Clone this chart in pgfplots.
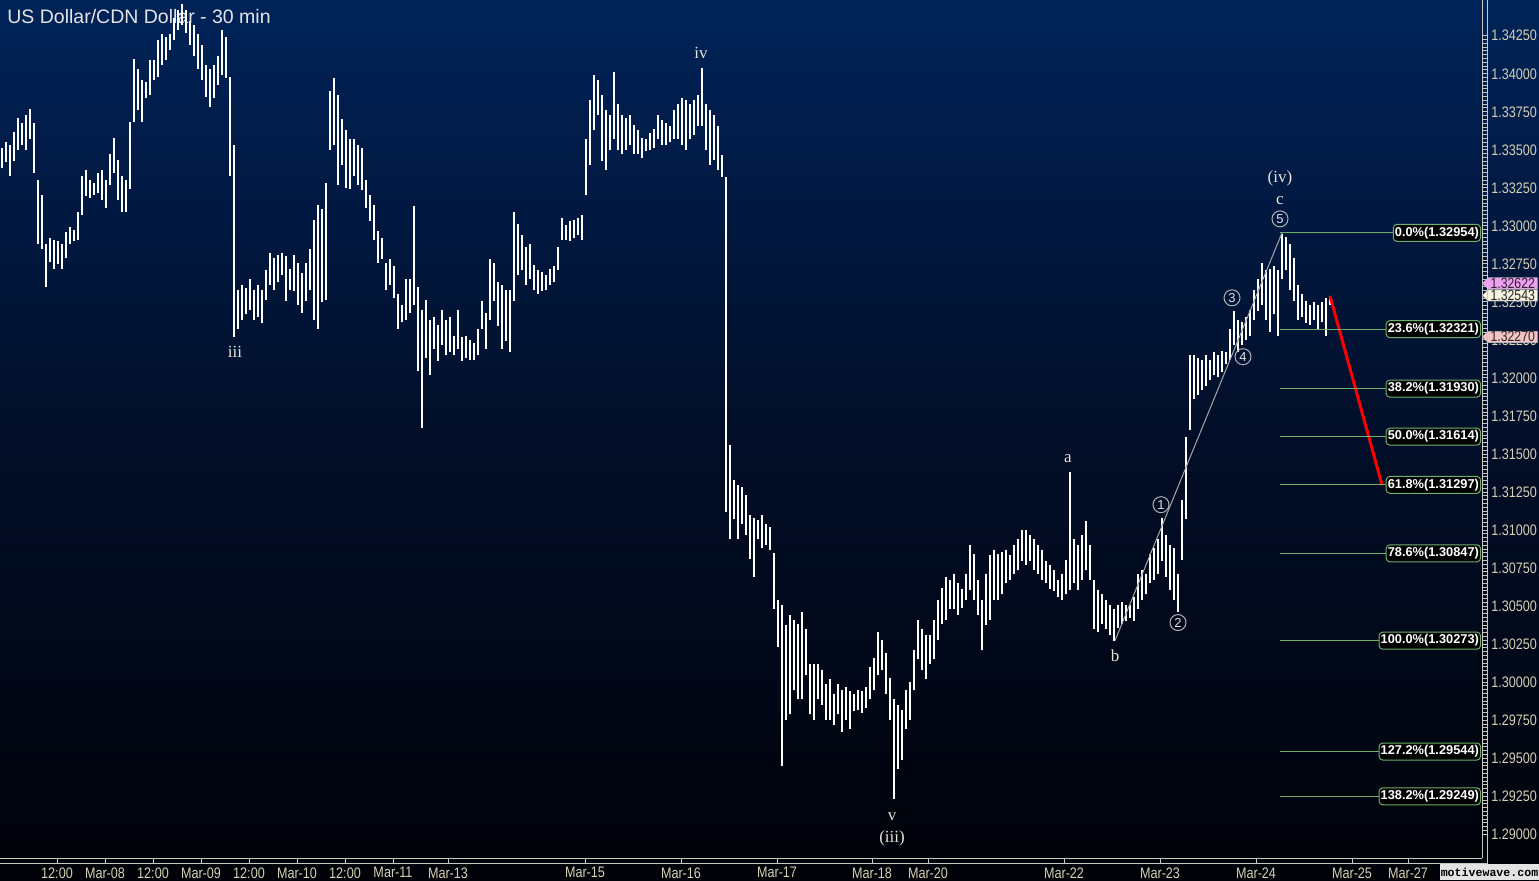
\documentclass[border=0pt]{standalone}
\usepackage{fontspec}
\usepackage{pgfplots}
\pgfplotsset{compat=1.18}
\usepackage{pgfplotstable}
\usetikzlibrary{shapes.symbols}
\setmainfont{Liberation Sans}
\newfontfamily\narrowfont{Liberation Sans}[FakeStretch=0.83]
\newfontfamily\wavefont{Liberation Serif}
\newfontfamily\wmfont{Liberation Mono}

\definecolor{bgtop}{RGB}{0,35,88}
\definecolor{bgmid}{RGB}{2,14,40}
\definecolor{bgbot}{RGB}{0,2,8}
\definecolor{axisc}{RGB}{200,200,190}
\definecolor{labc}{RGB}{214,208,180}
\definecolor{fibgreen}{RGB}{108,176,108}
\definecolor{wavec}{RGB}{232,228,214}
\definecolor{titlec}{RGB}{228,228,228}
\definecolor{mkpink}{RGB}{240,160,240}
\definecolor{mkcream}{RGB}{248,244,224}
\definecolor{mksalmon}{RGB}{244,196,196}

% 30-min bars: x = bar position, lo/hi = low/high price
\pgfplotstableread{
x lo hi
2 1.3338 1.3351
6 1.3342 1.3355
10 1.3333 1.3353
14 1.3343 1.3362
18 1.3350 1.3371
22 1.3353 1.3368
26 1.3350 1.3373
30 1.3357 1.3377
34 1.3335 1.3368
38 1.3288 1.3330
42 1.3285 1.3320
46 1.3260 1.3288
50 1.3276 1.3292
54 1.3272 1.3291
58 1.3275 1.3290
62 1.3272 1.3288
66 1.3279 1.3296
70 1.3288 1.3299
74 1.3290 1.3297
78 1.3291 1.3309
82 1.3307 1.3333
86 1.3320 1.3337
90 1.3318 1.3330
94 1.3320 1.3328
98 1.3322 1.3335
102 1.3317 1.3337
106 1.3312 1.3330
110 1.3327 1.3347
114 1.3335 1.3358
118 1.3317 1.3343
122 1.3309 1.3333
126 1.3309 1.3330
130 1.3324 1.3368
134 1.3368 1.3410
138 1.3376 1.3403
142 1.3368 1.3396
146 1.3384 1.3395
150 1.3386 1.3409
154 1.3396 1.3409
158 1.3398 1.3422
162 1.3406 1.3426
166 1.3409 1.3424
170 1.3416 1.3426
174 1.3422 1.3437
178 1.3429 1.3442
182 1.3432 1.3446
186 1.3427 1.3442
190 1.3419 1.3435
194 1.3412 1.3432
198 1.3403 1.3426
202 1.3396 1.3419
206 1.3385 1.3406
210 1.3378 1.3403
214 1.3384 1.3406
218 1.3393 1.3412
222 1.3399 1.3429
226 1.3397 1.3424
230 1.3333 1.3398
234 1.3227 1.3353
238 1.3232 1.3258
242 1.3238 1.3261
246 1.3242 1.3259
250 1.3245 1.3265
254 1.3238 1.3258
258 1.3240 1.3261
262 1.3236 1.3258
266 1.3251 1.3271
270 1.3261 1.3282
274 1.3258 1.3279
278 1.3263 1.3281
282 1.3268 1.3282
286 1.3251 1.3280
290 1.3258 1.3272
294 1.3257 1.3281
298 1.3248 1.3276
302 1.3243 1.3269
306 1.3251 1.3276
310 1.3258 1.3285
314 1.3238 1.3304
318 1.3232 1.3314
322 1.3250 1.3311
326 1.3251 1.3328
330 1.3350 1.3389
334 1.3353 1.3397
338 1.3327 1.3386
342 1.3340 1.3370
346 1.3325 1.3363
350 1.3324 1.3357
354 1.3333 1.3357
358 1.3327 1.3353
362 1.3324 1.3351
366 1.3312 1.3330
370 1.3303 1.3320
374 1.3291 1.3314
378 1.3276 1.3297
382 1.3278 1.3292
386 1.3258 1.3276
390 1.3261 1.3278
394 1.3253 1.3274
398 1.3232 1.3255
402 1.3237 1.3248
406 1.3238 1.3265
410 1.3243 1.3265
414 1.3248 1.3313
418 1.3205 1.3260
422 1.3167 1.3245
426 1.3213 1.3251
430 1.3202 1.3238
434 1.3219 1.3240
438 1.3211 1.3235
442 1.3222 1.3245
446 1.3215 1.3238
450 1.3217 1.3240
454 1.3215 1.3228
458 1.3219 1.3245
462 1.3211 1.3227
466 1.3213 1.3228
470 1.3212 1.3225
474 1.3212 1.3223
478 1.3215 1.3232
482 1.3232 1.3251
486 1.3219 1.3243
490 1.3238 1.3278
494 1.3251 1.3276
498 1.3234 1.3263
502 1.3219 1.3261
506 1.3224 1.3258
510 1.3217 1.3258
514 1.3251 1.3309
518 1.3268 1.3301
522 1.3271 1.3294
526 1.3261 1.3286
530 1.3265 1.3288
534 1.3258 1.3274
538 1.3255 1.3271
542 1.3257 1.3270
546 1.3258 1.3268
550 1.3261 1.3272
554 1.3263 1.3274
558 1.3271 1.3286
562 1.3291 1.3305
566 1.3291 1.3301
570 1.3290 1.3303
574 1.3292 1.3304
578 1.3294 1.3305
582 1.3291 1.3307
586 1.3320 1.3357
590 1.3340 1.3383
594 1.3363 1.3399
598 1.3373 1.3396
602 1.3343 1.3386
606 1.3337 1.3376
610 1.3350 1.3373
614 1.3357 1.3401
618 1.3350 1.3380
622 1.3347 1.3373
626 1.3350 1.3371
630 1.3353 1.3373
634 1.3347 1.3366
638 1.3347 1.3363
642 1.3345 1.3358
646 1.3349 1.3357
650 1.3350 1.3361
654 1.3351 1.3364
658 1.3357 1.3373
662 1.3353 1.3370
666 1.3353 1.3368
670 1.3355 1.3366
674 1.3357 1.3376
678 1.3357 1.3380
682 1.3353 1.3384
686 1.3350 1.3383
690 1.3357 1.3380
694 1.3360 1.3383
698 1.3366 1.3386
702 1.3366 1.3404
706 1.3350 1.3380
710 1.3340 1.3376
714 1.3343 1.3373
718 1.3337 1.3366
722 1.3332 1.3347
726 1.3112 1.3332
730 1.3094 1.3156
734 1.3107 1.3133
738 1.3094 1.3130
742 1.3104 1.3128
746 1.3097 1.3123
750 1.3081 1.3110
754 1.3069 1.3108
758 1.3094 1.3107
762 1.3088 1.3110
766 1.3090 1.3104
770 1.3087 1.3102
774 1.3048 1.3085
778 1.3023 1.3054
782 1.2945 1.3051
786 1.2975 1.3038
790 1.2979 1.3044
794 1.2995 1.3041
798 1.2989 1.3038
802 1.2989 1.3046
806 1.3005 1.3035
810 1.2979 1.3012
814 1.2975 1.3012
818 1.2989 1.3012
822 1.2985 1.3008
826 1.2975 1.2999
830 1.2975 1.3002
834 1.2972 1.2992
838 1.2979 1.2999
842 1.2967 1.2995
846 1.2975 1.2997
850 1.2969 1.2994
854 1.2981 1.2992
858 1.2982 1.2995
862 1.2980 1.2994
866 1.2983 1.2997
870 1.2989 1.3010
874 1.2995 1.3016
878 1.3005 1.3033
882 1.3008 1.3028
886 1.2992 1.3019
890 1.2975 1.3003
894 1.2923 1.2989
898 1.2943 1.2985
902 1.2949 1.2982
906 1.2969 1.2995
910 1.2975 1.3000
914 1.2995 1.3021
918 1.3015 1.3041
922 1.3008 1.3035
926 1.3002 1.3031
930 1.3012 1.3031
934 1.3015 1.3041
938 1.3028 1.3054
942 1.3038 1.3062
946 1.3041 1.3069
950 1.3048 1.3067
954 1.3048 1.3071
958 1.3044 1.3065
962 1.3049 1.3061
966 1.3054 1.3071
970 1.3061 1.3090
974 1.3054 1.3084
978 1.3044 1.3067
982 1.3021 1.3054
986 1.3038 1.3071
990 1.3041 1.3084
994 1.3054 1.3087
998 1.3054 1.3084
1002 1.3058 1.3086
1006 1.3065 1.3087
1010 1.3067 1.3084
1014 1.3071 1.3090
1018 1.3074 1.3094
1022 1.3080 1.3100
1026 1.3077 1.3100
1030 1.3080 1.3097
1034 1.3074 1.3094
1038 1.3071 1.3090
1042 1.3067 1.3087
1046 1.3065 1.3080
1050 1.3061 1.3077
1054 1.3060 1.3074
1058 1.3056 1.3067
1062 1.3054 1.3071
1066 1.3058 1.3080
1070 1.3061 1.3138
1074 1.3065 1.3094
1078 1.3061 1.3090
1082 1.3067 1.3097
1086 1.3074 1.3106
1090 1.3067 1.3090
1094 1.3035 1.3067
1098 1.3033 1.3061
1102 1.3038 1.3058
1106 1.3035 1.3054
1110 1.3031 1.3051
1114 1.3027 1.3048
1118 1.3036 1.3051
1122 1.3038 1.3053
1126 1.3040 1.3051
1130 1.3042 1.3051
1134 1.3040 1.3056
1138 1.3048 1.3071
1142 1.3054 1.3074
1146 1.3058 1.3071
1150 1.3065 1.3084
1154 1.3067 1.3088
1158 1.3071 1.3094
1162 1.3080 1.3108
1166 1.3069 1.3097
1170 1.3061 1.3090
1174 1.3054 1.3088
1178 1.3046 1.3071
1182 1.3080 1.3120
1186 1.3107 1.3161
1190 1.3166 1.3215
1194 1.3186 1.3215
1198 1.3189 1.3213
1202 1.3192 1.3212
1206 1.3195 1.3215
1210 1.3199 1.3212
1214 1.3202 1.3217
1218 1.3201 1.3215
1222 1.3204 1.3218
1226 1.3209 1.3217
1230 1.3212 1.3232
1234 1.3222 1.3244
1238 1.3217 1.3238
1242 1.3222 1.3237
1246 1.3225 1.3240
1250 1.3228 1.3245
1254 1.3238 1.3258
1258 1.3244 1.3265
1262 1.3248 1.3276
1266 1.3238 1.3271
1270 1.3230 1.3272
1274 1.3242 1.3274
1278 1.3228 1.3271
1282 1.3265 1.3295
1286 1.3271 1.3293
1290 1.3258 1.3288
1294 1.3251 1.3279
1298 1.3238 1.3261
1302 1.3240 1.3255
1306 1.3236 1.3251
1310 1.3235 1.3248
1314 1.3238 1.3250
1318 1.3232 1.3248
1322 1.3237 1.3250
1326 1.3228 1.3253
1330 1.3248 1.3254
}\bars

\begin{document}
\begin{tikzpicture}[
  wave/.style={text=wavec, font=\wavefont\fontsize{8.5}{8.5}\selectfont, inner sep=0pt},
  circ/.style={circle, draw=gray!60!white, line width=0.5pt, inner sep=0pt, minimum size=8pt,
    text=gray!25!white, font=\fontsize{6.5}{6.5}\selectfont},
  fib/.style={anchor=east, draw=fibgreen, fill=black, rounded corners=1.8pt, line width=0.5pt,
    text=white, font=\bfseries\fontsize{6.4}{6.4}\selectfont, inner xsep=0.8pt, inner ysep=0pt, minimum height=8.5pt},
  pmark/.style={signal, signal to=west, anchor=west, inner xsep=0.8pt, inner ysep=0pt, minimum height=5.6pt,
    minimum width=27.5pt, font=\narrowfont\fontsize{7.4}{7.4}\selectfont, draw=gray!60!white, line width=0.3pt}
]
\shade[top color=bgtop, bottom color=bgbot, middle color=bgmid] (0,0) rectangle (769.5pt,440pt);
\node[anchor=west, text=titlec, font=\fontsize{9.75}{10}\selectfont, inner sep=0pt] at (3.5pt,431.5pt) {US Dollar/CDN Dollar - 30 min};

\begin{axis}[
  at={(0,11pt)}, anchor=south west,
  scale only axis, width=741pt, height=429pt,
  xmin=0, xmax=1482, ymin=1.28844, ymax=1.34485,
  clip=false,
  axis x line*=bottom, axis y line*=right,
  axis line style={draw=axisc, line width=0.5pt},
  tick style={draw=axisc, line width=0.5pt},
  tick align=outside,
  major tick length=2.5pt, minor tick length=2.5pt,
  xtick={57,105,153,201,249,297,345,393,448,585,681,777,872,928,1064,1160,1256,1352,1408},
  xticklabels={12:00,Mar-08,12:00,Mar-09,12:00,Mar-10,12:00,Mar-11,Mar-13,Mar-15,Mar-16,Mar-17,Mar-18,Mar-20,Mar-22,Mar-23,Mar-24,Mar-25,Mar-27},
  ytick={1.29,1.2925,1.295,1.2975,1.3,1.3025,1.305,1.3075,1.31,1.3125,1.315,1.3175,1.32,1.3225,1.325,1.3275,1.33,1.3325,1.335,1.3375,1.34,1.3425},
  yticklabels={1.29000,1.29250,1.29500,1.29750,1.30000,1.30250,1.30500,1.30750,1.31000,1.31250,1.31500,1.31750,1.32000,1.32250,1.32500,1.32750,1.33000,1.33250,1.33500,1.33750,1.34000,1.34250},
  minor y tick num=9,
  ticklabel style={font=\narrowfont\fontsize{7.6}{7.6}\selectfont, text=labc},
  xticklabel style={inner sep=0pt, yshift=-2pt},
  yticklabel style={inner sep=0pt, xshift=2pt},
]
% price bars
\addplot[draw=none, mark=none,
  error bars/.cd, y dir=both, y explicit, error mark=none,
  error bar style={draw=white, line width=0.6pt}]
  table[x=x, y expr={(\thisrow{lo}+\thisrow{hi})/2}, y error expr={(\thisrow{hi}-\thisrow{lo})/2}] {\bars};

% wave line b -> (iv)
\addplot[gray!70!white, line width=0.5pt] coordinates {(1115,1.30273) (1282,1.32954)};
% projection
\addplot[red, line width=1.5pt] coordinates {(1330,1.3254) (1382,1.31297)};

% fibonacci levels
\addplot[fibgreen, line width=0.5pt] coordinates {(1280,1.32954) (1440,1.32954)};
\addplot[fibgreen, line width=0.5pt] coordinates {(1280,1.32321) (1440,1.32321)};
\addplot[fibgreen, line width=0.5pt] coordinates {(1280,1.31930) (1440,1.31930)};
\addplot[fibgreen, line width=0.5pt] coordinates {(1280,1.31614) (1440,1.31614)};
\addplot[fibgreen, line width=0.5pt] coordinates {(1280,1.31297) (1440,1.31297)};
\addplot[fibgreen, line width=0.5pt] coordinates {(1280,1.30847) (1440,1.30847)};
\addplot[fibgreen, line width=0.5pt] coordinates {(1280,1.30273) (1440,1.30273)};
\addplot[fibgreen, line width=0.5pt] coordinates {(1280,1.29544) (1440,1.29544)};
\addplot[fibgreen, line width=0.5pt] coordinates {(1280,1.29249) (1440,1.29249)};

\node[fib] at (axis cs:1481,1.32954) {0.0\%(1.32954)};
\node[fib] at (axis cs:1481,1.32321) {23.6\%(1.32321)};
\node[fib] at (axis cs:1481,1.31930) {38.2\%(1.31930)};
\node[fib] at (axis cs:1481,1.31614) {50.0\%(1.31614)};
\node[fib] at (axis cs:1481,1.31297) {61.8\%(1.31297)};
\node[fib] at (axis cs:1481,1.30847) {78.6\%(1.30847)};
\node[fib] at (axis cs:1481,1.30273) {100.0\%(1.30273)};
\node[fib] at (axis cs:1481,1.29544) {127.2\%(1.29544)};
\node[fib] at (axis cs:1481,1.29249) {138.2\%(1.29249)};

% wave labels
\node[wave] at (axis cs:235,1.3217) {iii};
\node[wave] at (axis cs:701,1.3414) {iv};
\node[wave] at (axis cs:892,1.29117) {v};
\node[wave] at (axis cs:892,1.28973) {(iii)};
\node[wave] at (axis cs:1068,1.31469) {a};
\node[wave] at (axis cs:1115,1.30175) {b};
\node[wave] at (axis cs:1280,1.33164) {c};
\node[wave] at (axis cs:1280,1.33309) {(iv)};
\node[circ] at (axis cs:1161,1.31167) {1};
\node[circ] at (axis cs:1178,1.30392) {2};
\node[circ] at (axis cs:1232,1.32527) {3};
\node[circ] at (axis cs:1243,1.32140) {4};
\node[circ] at (axis cs:1280,1.33046) {5};

% last-price markers
\node[pmark, fill=mkpink, text=black!80!mkpink] at (axis cs:1482,1.32622) {1.32622};
\node[pmark, fill=mkcream, text=black!85] at (axis cs:1482,1.32543) {1.32543};
\node[pmark, fill=mksalmon, text=black!80!mksalmon] at (axis cs:1482,1.32270) {1.32270};

% second rule of the double axis lines
\draw[axisc, line width=0.5pt] ([xshift=2.5pt]rel axis cs:1,1) -- ([xshift=2.5pt,yshift=-2.5pt]rel axis cs:1,0)
  -- ([yshift=-2.5pt]rel axis cs:0,0);
\end{axis}

\node[fill=gray!22!white, text=black, font=\wmfont\bfseries\fontsize{5.8}{5.8}\selectfont,
  inner sep=0pt, minimum width=49.5pt, minimum height=8pt] at (744.75pt,4pt) {motivewave.com};

\pgfresetboundingbox
\path[use as bounding box] (0,0) rectangle (769.5pt,440pt);
\end{tikzpicture}
\end{document}
